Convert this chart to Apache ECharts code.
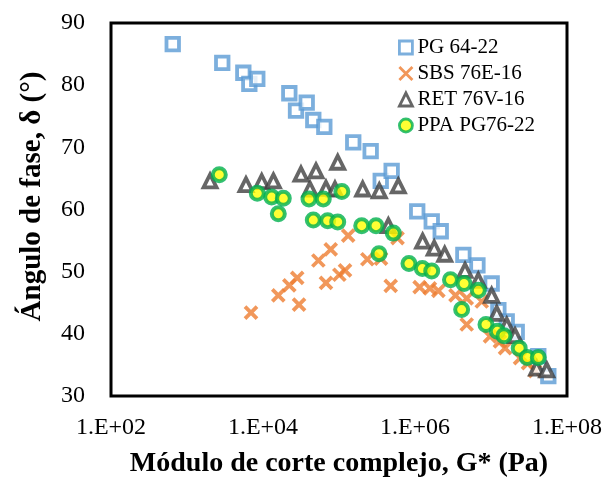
<!DOCTYPE html>
<html>
<head>
<meta charset="utf-8">
<script src="https://cdn.jsdelivr.net/npm/echarts@6/dist/echarts.min.js"></script>
<style>
html,body{margin:0;padding:0;background:#fff;}
#chart{width:609px;height:483px;}
</style>
</head>
<body>
<div id="chart"></div>
<script>
// ---- data (G* in Pa, phase angle in degrees) ----
var seriesNames = ['PG 64-22', 'SBS 76E-16', 'RET 76V-16', 'PPA PG76-22'];

var pg6422 = [
  [649, 86.6], [2910, 83.6], [5510, 82.0], [6610, 80.2], [8410, 81.0],
  [22200, 78.7], [27200, 75.9], [37600, 77.2], [45900, 74.4], [64100, 73.3],
  [154000, 70.8], [261000, 69.4], [354000, 64.6], [493000, 66.2],
  [1.07e6, 59.7], [1.66e6, 58.1], [2.18e6, 56.5], [4.33e6, 52.7], [6.63e6, 51.0],
  [1.02e7, 48.1], [1.25e7, 43.8], [1.61e7, 42.0], [2.18e7, 40.3], [4.19e7, 36.4], [5.68e7, 33.2]
];

var sbs76e16 = [
  [6950, 43.4], [15900, 46.2], [22200, 47.8], [28200, 49.0], [29800, 44.7],
  [53500, 51.8], [77800, 53.6], [67400, 48.2], [101000, 49.5], [120000, 50.2],
  [132000, 55.8], [236000, 52.0], [357000, 52.1], [589000, 55.4], [479000, 47.7],
  [1.15e6, 47.5], [1.57e6, 47.3], [2.03e6, 46.9], [3.41e6, 46.2], [4.79e6, 45.7],
  [4.79e6, 41.5], [7.55e6, 45.2], [9.7e6, 39.6], [1.31e7, 38.8], [1.53e7, 37.7],
  [2.41e7, 36.1], [3.07e7, 35.3], [3.79e7, 34.0]
];

var ret76v16 = [
  [2010, 64.6], [5970, 64.0], [9620, 64.5], [13700, 64.6], [31600, 65.7],
  [49800, 66.2], [96200, 67.6], [41500, 63.3], [67400, 63.4], [88500, 63.3],
  [205000, 63.3], [339000, 63.0], [603000, 63.8], [446000, 57.4],
  [1.26e6, 54.9], [1.79e6, 53.8], [2.46e6, 52.8], [4.55e6, 50.2], [6.81e6, 48.6],
  [1.02e7, 46.2], [1.19e7, 43.3], [1.61e7, 41.4], [2.07e7, 39.7], [3.99e7, 34.5], [5.41e7, 34.2]
];

var ppaPg7622 = [
  [2660, 65.6], [8410, 62.6], [13000, 62.0], [18500, 61.8], [15900, 59.3],
  [40300, 61.7], [62100, 61.7], [109000, 62.9], [45900, 58.3], [71000, 58.2],
  [96200, 58.0], [199000, 57.4], [307000, 57.4], [518000, 56.2], [336000, 52.9],
  [833000, 51.3], [1.25e6, 50.5], [1.66e6, 50.1], [2.93e6, 48.7], [4.42e6, 48.1],
  [6.81e6, 47.0], [4.11e6, 43.9], [8.59e6, 41.5], [1.21e7, 40.4], [1.48e7, 39.7],
  [2.35e7, 37.7], [3.0e7, 36.2], [4.19e7, 36.2]
];

var xTickLabels = {2: '1.E+02', 4: '1.E+04', 6: '1.E+06', 8: '1.E+08'};
var yTicks = [30, 40, 50, 60, 70, 80, 90];

var FONT = '"Liberation Serif", "Times New Roman", serif';

var chart = echarts.init(document.getElementById('chart'), null, {renderer: 'canvas'});

var option = {
  backgroundColor: '#ffffff',
  animation: false,
  grid: {
    left: 111, right: 42, top: 23, bottom: 85,
    show: true, borderColor: '#000000', borderWidth: 3, backgroundColor: 'transparent'
  },
  legend: {
    orient: 'vertical',
    left: 393, top: 32,
    itemWidth: 13, itemHeight: 13, itemGap: 5,
    data: seriesNames,
    itemStyle: {borderWidth: 2.8},
    textStyle: {fontFamily: FONT, fontSize: 21, color: '#000', lineHeight: 21}
  },
  xAxis: {
    type: 'log', logBase: 10, min: 100, max: 1e8, interval: 2,
    axisLine: {show: false}, axisTick: {show: false}, splitLine: {show: false},
    axisLabel: {
      fontFamily: FONT, fontSize: 24, color: '#000', margin: 20,
      formatter: function (v) { var e = Math.round(Math.log10(v)); return xTickLabels[e] || ''; }
    },
    name: 'Módulo de corte complejo, G* (Pa)',
    nameLocation: 'middle', nameGap: 54,
    nameTextStyle: {fontFamily: FONT, fontSize: 28, fontWeight: 'bold', color: '#000'}
  },
  yAxis: {
    type: 'value', min: yTicks[0], max: yTicks[yTicks.length - 1], interval: 10,
    axisLine: {show: false}, axisTick: {show: false}, splitLine: {show: false},
    axisLabel: {fontFamily: FONT, fontSize: 24, color: '#000', margin: 26, padding: [5, 0, 0, 0]},
    name: 'Ángulo de fase, δ (°)',
    nameLocation: 'middle', nameGap: 64,
    nameTextStyle: {fontFamily: FONT, fontSize: 29, fontWeight: 'bold', color: '#000', padding: [0, 0, 0, 26]}
  },
  series: [
    {
      name: seriesNames[0], type: 'scatter', data: pg6422,
      symbol: 'rect', symbolSize: 12.5,
      itemStyle: {color: '#ffffff', borderColor: '#5B9BD5', borderWidth: 3.8}
    },
    {
      name: seriesNames[1], type: 'scatter', data: sbs76e16,
      symbol: 'path://M0,0L10,10M10,0L0,10', symbolSize: 12,
      itemStyle: {color: 'rgba(0,0,0,0)', borderColor: '#ED7D31', borderWidth: 3.8}
    },
    {
      name: seriesNames[2], type: 'scatter', data: ret76v16,
      symbol: 'triangle', symbolSize: 13,
      itemStyle: {color: '#ffffff', borderColor: '#404040', borderWidth: 3.8}
    },
    {
      name: seriesNames[3], type: 'scatter', data: ppaPg7622,
      symbol: 'circle', symbolSize: 13,
      itemStyle: {color: '#FFFF00', borderColor: '#00B050', borderWidth: 4}
    }
  ]
};
chart.setOption(option);
</script>
</body>
</html>
